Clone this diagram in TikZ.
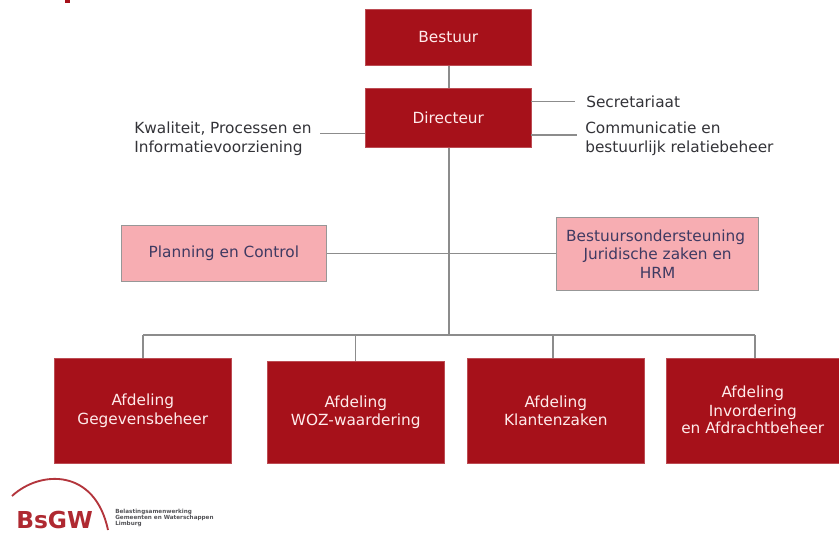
\documentclass[tikz,border=0pt]{standalone}
\usepackage{fontspec}
\setmainfont{DejaVu Sans}
\definecolor{bsred}{HTML}{A6111A}
\definecolor{bspink}{HTML}{F7ADB2}
\definecolor{bsline}{HTML}{8C8C8C}
\definecolor{bstext}{HTML}{333338}
\definecolor{bspinktext}{HTML}{3F3A62}
\tikzset{
  x=0.75pt,y=-0.75pt,
  redbox/.style={draw=bsred!75!white,line width=0.4pt,fill=bsred,text=white!92!red,align=center,anchor=north west,inner sep=0pt,font=\fontsize{11.5pt}{14pt}\selectfont},
  pinkbox/.style={draw=bsline!90!white,line width=0.9pt,fill=bspink,text=bspinktext,align=center,anchor=north west,inner sep=0pt,font=\fontsize{11.5pt}{14pt}\selectfont},
  lab/.style={text=bstext,align=left,anchor=west,inner sep=0pt,font=\fontsize{11.5pt}{14pt}\selectfont},
  conn/.style={draw=bsline,line width=1pt},
  connb/.style={draw=bsline,line width=1.3pt},
}
\newcommand{\bx}[6]{\node[#1,minimum width=#4*0.75pt,minimum height=#5*0.75pt] (#2) at (#3) {#6};}
\newcommand{\dn}[1]{\raisebox{-1.3pt}{#1}}
\begin{document}
\begin{tikzpicture}
\useasboundingbox (0,0) rectangle (839,533);
\coordinate (jt) at (449,335);
\coordinate (jl) at (143,335);
\coordinate (jr) at (755,335);
\coordinate (jk2) at (553,335);
\coordinate (jk3) at (553,358);
\coordinate (js) at (531,101.5);
\coordinate (jse) at (575,101.5);
\coordinate (jc) at (531,135);
\coordinate (jce) at (577,135);
\coordinate (jk) at (365,133.5);
\coordinate (jke) at (320,133.5);

\bx{redbox}{bestuur}{365,9}{166}{56}{\raisebox{0.6pt}{Bestuur}}
\bx{redbox}{directeur}{365,88}{166}{59}{Directeur}
\bx{pinkbox}{planning}{120.5,225}{205.5}{56}{Planning en Control}
\bx{pinkbox}{onder}{556,217}{202}{73}{\hspace*{-3pt}Bestuursondersteuning\\Juridische zaken en\\HRM}
\bx{redbox}{gegevens}{54,358}{177}{105}{\dn{Afdeling}\\\dn{Gegevensbeheer}}
\bx{redbox}{woz}{267,361}{177}{102}{Afdeling\\WOZ-waardering}
\bx{redbox}{klanten}{467,358}{177}{105}{\dn{Afdeling}\\\dn{Klantenzaken}}
\bx{redbox}{invord}{666,358}{173}{105}{Afdeling\\Invordering\\\raisebox{1pt}{en Afdrachtbeheer}}

\draw[connb] (bestuur.south -| jt) -- (directeur.north -| jt);
\draw[connb] (directeur.south -| jt) -- (jt);
\draw[conn] (js) -- (jse);
\draw[conn] (jc) -- (jce);
\draw[conn] (jk) -- (jke);
\draw[conn] (planning.east) -- (onder.west |- planning.east);
\draw[conn] (jl) -- (jr);
\draw[conn] (jl) -- (jl |- gegevens.north);
\draw[conn] (woz.north) -- (woz.north |- jt);
\draw[conn] (jk3) -- (jk2);
\draw[conn] (jr) -- (jr |- invord.north);

\node[lab] (secr) at (586,102) {Secretariaat};
\node[lab] (comm) at (585,139) {Communicatie en\\bestuurlijk relatiebeheer};
\node[lab] (kwal) at (134,139) {Kwaliteit, Processen en\\Informatievoorziening};

\fill[bsred] (65,0) rectangle (70,3);
\draw[bsred!85!white,line width=1.4pt] (12,496) .. controls (40,470) and (95,468) .. (108,530);
\node[anchor=west,inner sep=0pt,text=bsred!90!white,font=\fontsize{17.5pt}{18pt}\selectfont\bfseries] (bsgw) at (16,520) {BsGW};
\node[anchor=west,align=left,inner sep=0pt,text=bstext!85!white,font=\fontsize{4.25pt}{4.6pt}\selectfont\bfseries] (bsl) at (115,518) {Belastingsamenwerking\\Gemeenten en Waterschappen\\Limburg};
\end{tikzpicture}
\end{document}
